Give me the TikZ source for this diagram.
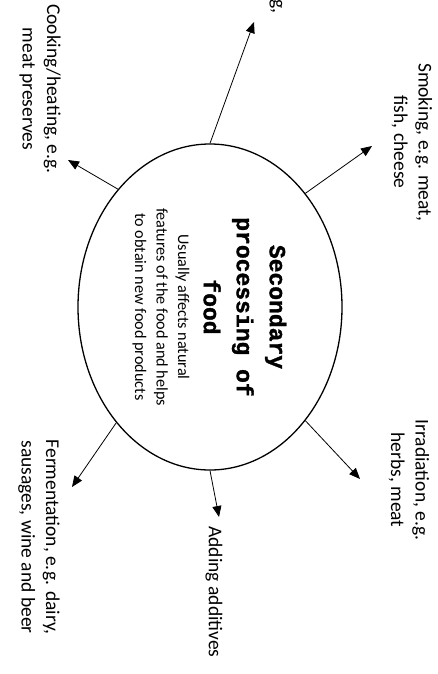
\documentclass[tikz,border=0pt]{standalone}
\usepackage{fontspec}
\setmainfont{Carlito}
\newfontfamily\titlefont[BoldFeatures={FakeBold=1.5}]{Liberation Mono}
\usetikzlibrary{arrows.meta,shapes.geometric}
\begin{document}
\begin{tikzpicture}[x=1pt,y=-1pt,
  lab/.style={rotate=-90,align=center,font=\fontsize{19.5}{24.5}\selectfont,inner sep=0pt},
  arr/.style={line width=0.8pt,-{Triangle[length=11pt,width=9pt]}}]
\useasboundingbox (0,0) rectangle (438,674);
\clip (0,0) rectangle (438,674);
\node[ellipse,draw,line width=1.3pt,minimum width=264pt,minimum height=326pt,inner sep=0pt] (c) at (210,307) {};
\node[rotate=-90,align=center,inner sep=0pt,font=\titlefont\bfseries\fontsize{23}{33}\selectfont] (t) at (245,307) {Secondary\\processing of\\food};
\node[rotate=-90,align=center,inner sep=0pt,font=\fontsize{16.2}{21.5}\selectfont] (d) at (161,307) {Usually affects natural\\features of the food and helps\\to obtain new food products};
% labels
\node[lab] (cook) at (40,89) {Cooking/heating, e.g.\\meat preserves};
\node[lab] (smoke) at (412,142) {Smoking, e.g. meat,\\fish, cheese};
\node[lab] (irr) at (409,480) {Irradiation, e.g.\\herbs, meat};
\node[lab] (add) at (214,592) {Adding additives};
\node[lab] (ferm) at (39,537) {Fermentation, e.g. dairy,\\sausages, wine and beer};
\node[lab,anchor=east] (top) at (276,14) {g,};
% arrow tips
\coordinate (ptop) at (254,22);
\coordinate (pcook) at (68,160);
\coordinate (psmoke) at (372,146);
\coordinate (pirr) at (360,479);
\coordinate (padd) at (219,517);
\coordinate (pferm) at (72,487);
\draw[arr] (c.90) -- (ptop);
\draw[arr] (c.128.5) -- (pcook);
\draw[arr] (c.50.7) -- (psmoke);
\draw[arr] (c.-50.5) -- (pirr);
\draw[arr] (c.-90) -- (padd);
\draw[arr] (c.-129.5) -- (pferm);
\end{tikzpicture}
\end{document}
